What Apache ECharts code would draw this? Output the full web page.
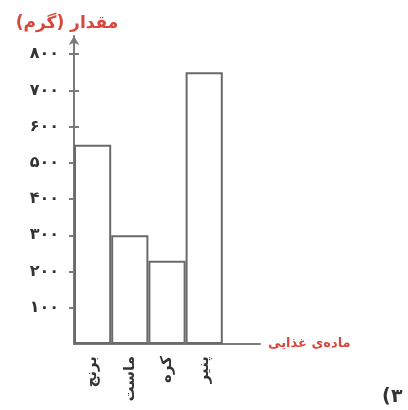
<!DOCTYPE html>
<html>
<head>
<meta charset="utf-8">
<script src="https://cdn.jsdelivr.net/npm/echarts@6/dist/echarts.min.js"></script>
<style>
  html, body { margin: 0; padding: 0; background: #fff; }
  #chart { width: 408px; height: 410px; }
</style>
</head>
<body>
<div id="chart"></div>
<script>
  // داده‌ها
  var foods = ['برنج', 'ماست', 'کره', 'پنیر', '']
  var grams = [550, 300, 230, 750, '-']
  var tickValues = [100, 200, 300, 400, 500, 600, 700, 800]
  var faDigits = ['۰', '۱', '۲', '۳', '۴', '۵', '۶', '۷', '۸', '۹']

  function toFa(v) {
    return String(v).replace(/[0-9]/g, function(d) { return faDigits[+d] })
  }

  var chart = echarts.init(document.getElementById('chart'))
  chart.setOption({
    backgroundColor: '#fff',
    textStyle: { fontFamily: 'DejaVu Sans' },
    grid: { left: 74, right: 148, top: 36, bottom: 66 },
    xAxis: {
      type: 'category',
      data: foods,
      name: 'ماده‌ی غذایی',
      nameLocation: 'end',
      nameGap: 8,
      nameTextStyle: { color: '#d8463c', fontSize: 13, fontWeight: 'bold' },
      axisLine: { lineStyle: { color: '#7a7a7a', width: 2 } },
      axisTick: { show: false },
      axisLabel: { rotate: 90, margin: 12, fontSize: 15, color: '#333', fontWeight: 'bold' }
    },
    yAxis: [{
      type: 'value',
      min: 0,
      max: 850,
      name: 'مقدار (گرم)',
      nameLocation: 'end',
      nameGap: 4,
      nameTextStyle: { color: '#d8463c', fontSize: 17, fontWeight: 'bold', align: 'center', padding: [0, 14, 0, 0] },
      splitLine: { show: false },
      axisLine: { show: true, symbol: ['none', 'arrow'], symbolSize: [8, 9], lineStyle: { color: '#7a7a7a', width: 2 } },
      axisTick: { show: true, length: 5, customValues: tickValues, lineStyle: { color: '#7a7a7a', width: 2 } },
      axisLabel: {
        customValues: tickValues,
        margin: 15,
        fontSize: 16,
        fontWeight: 'bold',
        color: '#333',
        formatter: function(v) { return toFa(v) }
      }
    }, {
      type: 'value',
      min: 0,
      max: 850,
      position: 'left',
      splitLine: { show: false },
      axisLine: { show: false },
      axisTick: { show: true, inside: true, length: 5, customValues: tickValues, lineStyle: { color: '#7a7a7a', width: 2 } },
      axisLabel: { show: false }
    }],
    series: [{
      type: 'bar',
      data: grams,
      barCategoryGap: '0%',
      itemStyle: { color: '#fff', borderColor: '#6a6a6a', borderWidth: 2 }
    }],
    graphic: [{
      type: 'text',
      left: 382,
      top: 388,
      style: { text: '(', fontSize: 19, fontWeight: 'bold', fill: '#333', fontFamily: 'DejaVu Sans' }
    }, {
      type: 'text',
      left: 391,
      top: 388,
      style: { text: '۳', fontSize: 19, fontWeight: 'bold', fill: '#333', fontFamily: 'DejaVu Sans' }
    }]
  })
</script>
</body>
</html>
